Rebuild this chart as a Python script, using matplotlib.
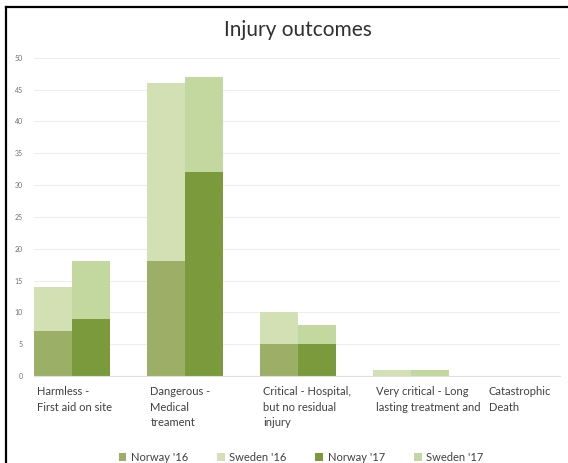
import numpy as np
import matplotlib
matplotlib.use('Agg')
import matplotlib.pyplot as plt
from matplotlib.lines import Line2D

plt.rcParams['font.family'] = ['Lato', 'DejaVu Sans']

categories = ['Harmless -\nFirst aid on site', 'Dangerous -\nMedical\ntreament',
              'Critical - Hospital,\nbut no residual\ninjury',
              'Very critical - Long\nlasting treatment and', 'Catastrophic\nDeath']
norway16 = [7, 18, 5, 0, 0]
sweden16 = [7, 28, 5, 1, 0]
norway17 = [9, 32, 5, 0, 0]
sweden17 = [9, 15, 3, 1, 0]

c_n16 = '#9bb066'
c_s16 = '#d2e0b4'
c_n17 = '#7a9a3c'
c_s17 = '#c3d89e'

fig = plt.figure(figsize=(5.68, 4.63), dpi=100)
ax = fig.add_axes([0.060, 0.188, 0.926, 0.687])

x = np.arange(len(categories))
w = 0.336
ax.bar(x, norway16, w, align='edge', color=c_n16, label="Norway '16", zorder=2)
ax.bar(x, sweden16, w, bottom=norway16, align='edge', color=c_s16, label="Sweden '16", zorder=2)
ax.bar(x + w, norway17, w, align='edge', color=c_n17, label="Norway '17", zorder=2)
ax.bar(x + w, sweden17, w, bottom=norway17, align='edge', color=c_s17, label="Sweden '17", zorder=2)

ax.set_xlim(0, 4.66)
ax.set_ylim(0, 50)
ax.set_yticks(range(0, 51, 5))
ax.tick_params(axis='y', labelsize=5, labelcolor='#707070', length=0, pad=8)
ax.set_xticks([])
ax.grid(axis='y', color='#eeeeee', linewidth=0.8, zorder=0)
for s in ['top', 'right', 'left']:
    ax.spines[s].set_visible(False)
ax.spines['bottom'].set_color('#e0e0e0')

for i, lab in enumerate(categories):
    ax.text(i + 0.03, -1.6, lab, ha='left', va='top', fontsize=8,
            color='#404040', linespacing=1.5)

fig.text(0.525, 0.935, 'Injury outcomes', ha='center', va='center', fontsize=15, color='#303030')

fig.legend(loc='lower center', bbox_to_anchor=(0.53, -0.022), ncol=4, frameon=False,
           fontsize=8, handlelength=0.7, handleheight=0.7, columnspacing=2.6,
           handletextpad=0.4, labelcolor='#404040')

fig.add_artist(Line2D([0.011, 0.011], [0, 0.985], color='black', linewidth=1.6))
fig.add_artist(Line2D([0.011, 1], [0.985, 0.985], color='black', linewidth=1.6))

fig.savefig('out.png', dpi=100)
